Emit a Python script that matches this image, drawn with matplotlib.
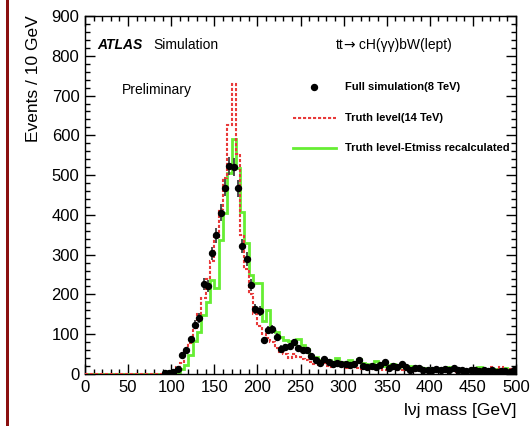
import numpy as np
import matplotlib
matplotlib.use("Agg")
import matplotlib.pyplot as plt
from matplotlib.patches import Rectangle
from matplotlib.lines import Line2D
from matplotlib.ticker import MultipleLocator

plt.rcParams['font.family'] = ['Liberation Sans', 'DejaVu Sans']

# 5 GeV bins from 0 to 500 (100 bins)
bin_edges = np.arange(0, 505, 5)

# Full simulation (8 TeV), points
full_sim = [
    0, 0, 0, 0, 0, 0, 0, 0, 0, 0,
    0, 0, 0, 0, 0, 0, 0, 0, 3, 2,
    5, 12, 48, 60, 87, 124, 141, 226, 222, 303,
    349, 406, 468, 523, 520, 467, 322, 289, 224, 163,
    158, 85, 111, 112, 93, 64, 68, 70, 80, 65,
    61, 60, 46, 36, 28, 37, 31, 26, 28, 26,
    26, 23, 25, 35, 19, 17, 20, 18, 22, 29,
    15, 19, 18, 25, 18, 11, 15, 14, 11, 11,
    10, 12, 9, 13, 10, 14, 9, 10, 8, 11,
    9, 8, 10, 7, 9, 6, 8, 7, 6, 9,
]

# Truth level (14 TeV), red dashed
truth_14 = [
    0, 0, 0, 0, 0, 0, 0, 0, 0, 0,
    0, 0, 0, 0, 0, 0, 0, 0, 0, 0,
    3, 18, 28, 55, 78, 115, 150, 190, 240, 285,
    345, 415, 492, 626, 730, 553, 350, 265, 200, 150,
    120, 100, 90, 80, 65, 55, 50, 40, 50, 42,
    38, 35, 30, 25, 22, 28, 20, 18, 22, 20,
    15, 18, 20, 14, 12, 15, 12, 13, 15, 10,
    12, 14, 11, 9, 12, 10, 8, 11, 9, 8,
    9, 7, 8, 10, 7, 9, 6, 8, 7, 6,
    8, 6, 7, 9, 18, 7, 17, 6, 12, 5,
]

# Truth level - Etmiss recalculated, green
truth_met = [
    0, 0, 0, 0, 0, 0, 0, 0, 0, 0,
    0, 0, 0, 0, 0, 0, 0, 0, 0, 0,
    2, 4, 12, 23, 48, 84, 105, 148, 182, 236,
    217, 337, 405, 506, 592, 517, 408, 330, 249, 228,
    228, 134, 161, 108, 106, 92, 86, 84, 75, 88,
    72, 62, 44, 42, 35, 34, 36, 30, 40, 28,
    30, 36, 30, 37, 28, 25, 22, 33, 22, 20,
    23, 25, 18, 22, 16, 20, 15, 18, 13, 15,
    12, 14, 10, 12, 18, 10, 12, 9, 11, 8,
    10, 17, 9, 10, 8, 12, 7, 14, 8, 5,
]

centers = 0.5 * (bin_edges[:-1] + bin_edges[1:])
full_sim = np.array(full_sim, dtype=float)
mask = full_sim > 0

fig = plt.figure(figsize=(5.30, 4.26), dpi=100)
ax = fig.add_axes([85 / 530, 52 / 426, 431 / 530, 358 / 426])

ax.stairs(truth_met, bin_edges, baseline=None, color='#66ee33', lw=2, zorder=2)
ax.stairs(truth_14, bin_edges, baseline=None, color='#e83a3a', lw=1.5,
          linestyle=(0, (1.5, 0.9)), zorder=3)
ax.errorbar(centers[mask], full_sim[mask], yerr=np.sqrt(full_sim[mask]),
            fmt='o', color='black', ecolor='#404040', elinewidth=1.3,
            markersize=4.3, capsize=0, zorder=4)

ax.set_xlim(0, 500)
ax.set_ylim(0, 900)
ax.xaxis.set_major_locator(MultipleLocator(50))
ax.xaxis.set_minor_locator(MultipleLocator(10))
ax.yaxis.set_major_locator(MultipleLocator(100))
ax.yaxis.set_minor_locator(MultipleLocator(20))
ax.tick_params(which='both', direction='in', top=True, right=True,
               labelsize=12, width=1)
ax.tick_params(which='major', length=7, pad=4)
ax.tick_params(which='minor', length=3.5)
for s in ax.spines.values():
    s.set_linewidth(1)

fig.text(33 / 530, 1 - 15 / 426, 'Events / 10 GeV', rotation=90,
         ha='center', va='top', fontsize=12.5)
fig.text(516 / 530, 1 - 410 / 426, 'lνj mass [GeV]', ha='right',
         va='center', fontsize=12.5)

ax.text(0.028, 0.919, 'ATLAS', transform=ax.transAxes, fontsize=10,
        fontweight='bold', fontstyle='italic', va='center')
ax.text(0.158, 0.919, 'Simulation', transform=ax.transAxes, fontsize=10,
        va='center')
t1 = ax.text(0.582, 0.919, 'tt', transform=ax.transAxes, fontsize=10,
             va='center')
t2 = ax.annotate('→', xy=(1, 0.5), xycoords=t1, va='center', ha='left',
                 fontsize=10, family='DejaVu Sans')
ax.annotate(' cH(γγ)bW(lept)', xy=(1, 0.5), xycoords=t2, va='center',
            ha='left', fontsize=10)
ax.text(0.086, 0.793, 'Preliminary', transform=ax.transAxes, fontsize=10,
        va='center')

# legend drawn by hand to match the ROOT layout
ax.add_line(Line2D([0.531], [0.802], transform=ax.transAxes, marker='o',
                   color='black', markersize=4.3, linestyle='none'))
ax.add_line(Line2D([0.483, 0.582], [0.715, 0.715], transform=ax.transAxes,
                   color='#e83a3a', lw=1.5, linestyle=(0, (1.5, 0.9))))
ax.add_line(Line2D([0.483, 0.582], [0.631, 0.631], transform=ax.transAxes,
                   color='#66ee33', lw=2))
legend_labels = ['Full simulation(8 TeV)', 'Truth level(14 TeV)',
                 'Truth level-Etmiss recalculated']
for lab, yy in zip(legend_labels, [0.802, 0.715, 0.631]):
    ax.text(0.603, yy, lab, transform=ax.transAxes, fontsize=8,
            fontweight='bold', va='center')

fig.add_artist(Rectangle((6 / 530, 0), 3 / 530, 1, transform=fig.transFigure,
                         color='#8b1010', lw=0))

fig.savefig('out.png', dpi=100)
